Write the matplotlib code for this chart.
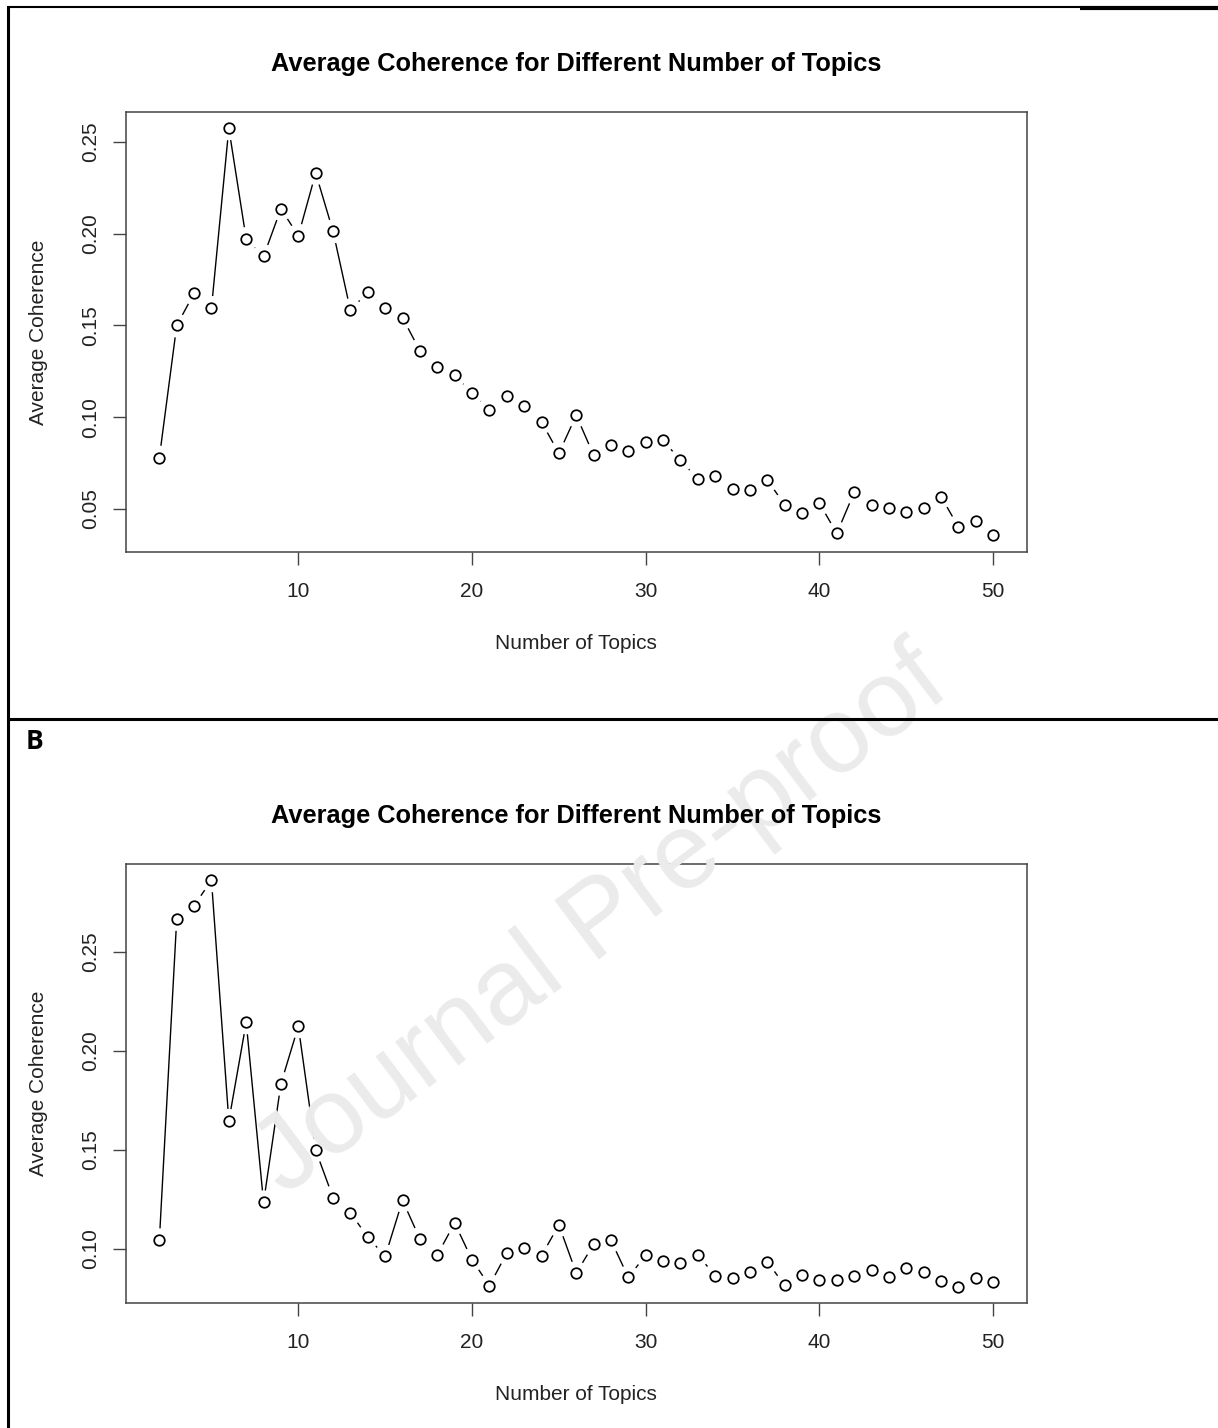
import numpy as np
import matplotlib
matplotlib.use("Agg")
import matplotlib.pyplot as plt
from matplotlib.lines import Line2D
from matplotlib.collections import LineCollection

plt.rcParams['font.family'] = ['Liberation Sans', 'DejaVu Sans']

# ---------------- data ----------------
topics = list(range(2, 51))

coherence_a = [0.0779, 0.1500, 0.1675, 0.1595, 0.2575, 0.1971, 0.1877, 0.2136, 0.1989,
               0.2331, 0.2013, 0.1582, 0.1684, 0.1593, 0.1542, 0.1362, 0.1272, 0.1228,
               0.1133, 0.1040, 0.1117, 0.1060, 0.0973, 0.0803, 0.1010, 0.0793, 0.0850,
               0.0815, 0.0866, 0.0874, 0.0764, 0.0664, 0.0680, 0.0606, 0.0601, 0.0657,
               0.0522, 0.0479, 0.0530, 0.0366, 0.0590, 0.0522, 0.0504, 0.0483, 0.0504,
               0.0566, 0.0402, 0.0433, 0.0355]

coherence_b = [0.1042, 0.2665, 0.2732, 0.2860, 0.1645, 0.2143, 0.1234, 0.1833, 0.2123,
               0.1497, 0.1258, 0.1180, 0.1059, 0.0961, 0.1244, 0.1049, 0.0968, 0.1130,
               0.0944, 0.0813, 0.0978, 0.1002, 0.0965, 0.1120, 0.0877, 0.1022, 0.1042,
               0.0855, 0.0968, 0.0938, 0.0928, 0.0968, 0.0864, 0.0850, 0.0884, 0.0934,
               0.0815, 0.0865, 0.0842, 0.0840, 0.0864, 0.0890, 0.0857, 0.0902, 0.0882,
               0.0837, 0.0808, 0.0850, 0.0830]

x_ticks = [10, 20, 30, 40, 50]
y_ticks_a = [0.05, 0.10, 0.15, 0.20, 0.25]
y_ticks_b = [0.10, 0.15, 0.20, 0.25]

title_text = "Average Coherence for Different Number of Topics"
x_label = "Number of Topics"
y_label = "Average Coherence"
panel_label = "B"
watermark = "Journal Pre-proof"

# ---------------- layout ----------------
W, H = 1218, 1428
fig = plt.figure(figsize=(W / 100, H / 100), dpi=100)
fig.patch.set_facecolor('white')


def fx(px):
    return px / W


def fy(py):
    return 1 - py / H


# watermark behind everything
fig.text(fx(602), fy(922), watermark, rotation=37, fontsize=78, color='#ebebeb',
         ha='center', va='center', zorder=0)

# page frame lines
frame = [((7.5, 7), (7.5, 1428), 2.2),
         ((7, 7), (1080, 7), 1.5),
         ((1080, 8), (1218, 8), 3.0),
         ((7, 719), (1218, 719), 2.2)]
for (x0, y0), (x1, y1), lw in frame:
    fig.add_artist(Line2D([fx(x0), fx(x1)], [fy(y0), fy(y1)], transform=fig.transFigure,
                          color='black', lw=lw, solid_capstyle='butt'))

fig.text(fx(26), fy(741), panel_label, fontsize=19, fontweight='bold',
         ha='left', va='center', family=['Open Sans', 'DejaVu Sans'])


def r_range(vals):
    lo, hi = min(vals), max(vals)
    d = (hi - lo) * 0.04
    return lo - d, hi + d


def panel(top_px, bottom_px, values, yticks):
    left_px, right_px = 126, 1026.5
    ax = fig.add_axes([fx(left_px), fy(bottom_px), (right_px - left_px) / W,
                       (bottom_px - top_px) / H])
    ax.patch.set_alpha(0)
    ax.set_xlim(*r_range(topics))
    ax.set_ylim(*r_range(values))

    # R type="b": lines with gaps around the points
    trans = ax.transData
    pts = trans.transform(np.column_stack([topics, values]))
    gap = 12.0
    segs = []
    for p0, p1 in zip(pts[:-1], pts[1:]):
        d = p1 - p0
        L = np.hypot(*d)
        if L > 2 * gap:
            u = d / L
            a = trans.inverted().transform(p0 + gap * u)
            b = trans.inverted().transform(p1 - gap * u)
            segs.append([a, b])
    ax.add_collection(LineCollection(segs, colors='black', linewidths=1.0, zorder=2))
    ax.plot(topics, values, linestyle='none', marker='o', markersize=7.6,
            markerfacecolor='none', markeredgecolor='black', markeredgewidth=1.25, zorder=3)

    ax.set_xticks(x_ticks)
    ax.set_xticklabels([str(t) for t in x_ticks])
    ax.set_yticks(yticks)
    ax.set_yticklabels([f"{t:.2f}" for t in yticks])
    for lbl in ax.get_yticklabels():
        lbl.set_rotation(90)
        lbl.set_va('center')
    ax.tick_params(axis='both', direction='out', length=9.4, width=1.0, color='#444444',
                   labelsize=15, labelcolor='#222222')
    ax.tick_params(axis='x', pad=12.5)
    ax.tick_params(axis='y', pad=9.5)
    for s in ax.spines.values():
        s.set_color('#444444')
        s.set_linewidth(1.1)

    cx = (left_px + right_px) / 2
    fig.text(fx(cx), fy(top_px - 48), title_text, fontsize=18.3, fontweight='bold',
             ha='center', va='center')
    fig.text(fx(cx), fy(bottom_px + 92), x_label, fontsize=15, ha='center', va='center',
             color='#222222')
    fig.text(fx(39), fy((top_px + bottom_px) / 2), y_label, fontsize=15, rotation=90,
             ha='center', va='center', color='#222222')
    return ax


panel(112, 551.7, coherence_a, y_ticks_a)
panel(864, 1303, coherence_b, y_ticks_b)

fig.savefig("out.png", dpi=100, facecolor='white')
